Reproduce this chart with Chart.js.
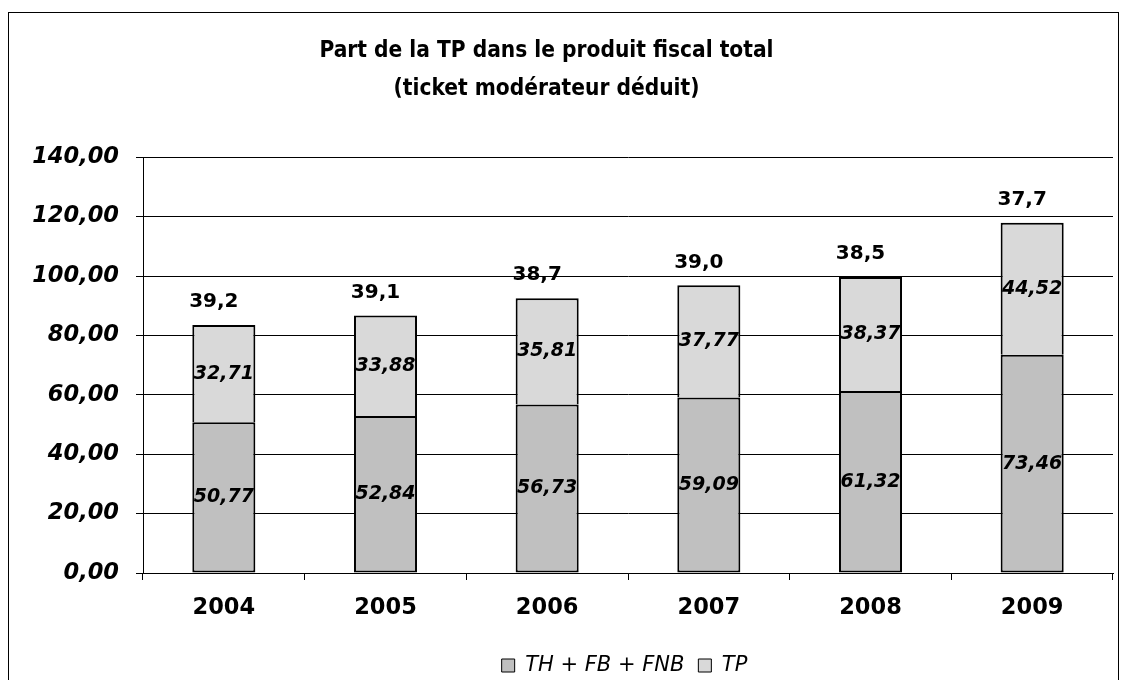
<!DOCTYPE html>
<html>
<head>
<meta charset="utf-8">
<script src="https://cdn.jsdelivr.net/npm/chart.js@4.4.0/dist/chart.umd.min.js"></script>
<style>
  body { margin: 0; background: #fff; }
  #wrap { position: relative; width: 1122px; height: 680px; }
  #frame {
    position: absolute; left: 8px; top: 12px; width: 1109px; height: 700px;
    border-left: 1px solid #000; border-top: 1px solid #000; border-right: 1px solid #000;
    pointer-events: none;
  }
</style>
</head>
<body>
<div id="wrap">
  <canvas id="chart" width="1122" height="680"></canvas>
  <div id="frame"></div>
</div>
<script>
const years = ["2004", "2005", "2006", "2007", "2008", "2009"];
const thFbFnb = [50.77, 52.84, 56.73, 59.09, 61.32, 73.46];
const tp = [32.71, 33.88, 35.81, 37.77, 38.37, 44.52];
const tpShare = [39.2, 39.1, 38.7, 39.0, 38.5, 37.7];
const yTicks = [0, 20, 40, 60, 80, 100, 120, 140];

const FONT = "'DejaVu Sans', Verdana, sans-serif";

function frNum(v, d) {
    return v.toFixed(d).replace(".", ",");
}

// values inside the bars and the TP share above each bar
const barLabels = {
    id: "barLabels",
    afterDatasetsDraw(chart) {
        const ctx = chart.ctx;
        ctx.save();
        ctx.fillStyle = "#000";
        ctx.textAlign = "center";
        ctx.textBaseline = "middle";
        ctx.font = "italic bold 19px " + FONT;
        chart.data.datasets.forEach((ds, i) => {
            chart.getDatasetMeta(i).data.forEach((bar, j) => {
                ctx.fillText(frNum(ds.data[j], 2), bar.x, (bar.y + bar.base) / 2);
            });
        });
        ctx.font = "bold 20px " + FONT;
        const top = chart.getDatasetMeta(1).data;
        top.forEach((bar, j) => {
            ctx.fillText(frNum(tpShare[j], 1), bar.x - 10, bar.y - 23);
        });
        ctx.restore();
    }
};

// nudge the legend and title to where Excel put them
const boxShift = {
    id: "boxShift",
    afterLayout(chart) {
        const lg = chart.legend;
        lg.left += 68;
        lg.right += 68;
        lg.top += 6;
        lg.bottom += 6;
        const tb = chart.titleBlock;
        tb.left -= 10;
        tb.right -= 10;
    }
};

new Chart(document.getElementById("chart"), {
    type: "bar",
    data: {
        labels: years,
        datasets: [
            {
                label: "TH + FB + FNB",
                data: thFbFnb,
                backgroundColor: "#c0c0c0",
                borderColor: "#000",
                borderWidth: 2,
                borderSkipped: false
            },
            {
                label: "TP",
                data: tp,
                backgroundColor: "#d9d9d9",
                borderColor: "#000",
                borderWidth: { top: 2, left: 2, right: 2, bottom: 0 },
                borderSkipped: false
            }
        ]
    },
    options: {
        responsive: false,
        animation: false,
        layout: { padding: { left: 0, right: 9, top: 0, bottom: 0 } },
        datasets: { bar: { categoryPercentage: 1, barPercentage: 0.39 } },
        plugins: {
            title: {
                display: true,
                text: ["Part de la TP dans le produit fiscal total", "(ticket modérateur déduit)"],
                color: "#000",
                font: { family: "'DejaVu Sans Condensed', " + FONT, size: 22.5, weight: "bold", lineHeight: 1.65 },
                padding: { top: 33, bottom: 50 }
            },
            legend: {
                position: "bottom",
                labels: {
                    color: "#000",
                    font: { family: FONT, size: 21, style: "italic" },
                    boxWidth: 13,
                    boxHeight: 13,
                    padding: 14,
                    generateLabels(chart) {
                        return chart.data.datasets.map((ds, i) => ({
                            text: ds.label,
                            fillStyle: ds.backgroundColor,
                            strokeStyle: "#000",
                            lineWidth: 1,
                            datasetIndex: i,
                            fontColor: "#000"
                        }));
                    }
                }
            },
            tooltip: { enabled: false }
        },
        scales: {
            x: {
                stacked: true,
                afterFit(scale) { scale.height = 62; },
                grid: { drawOnChartArea: false, drawTicks: true, tickLength: 7, color: "#000" },
                border: { color: "#000" },
                ticks: { color: "#000", padding: 15, font: { family: FONT, size: 22.5, weight: "bold" } }
            },
            y: {
                stacked: true,
                min: 0,
                max: 140,
                afterFit(scale) { scale.width = 143; },
                afterBuildTicks(scale) { scale.ticks = yTicks.map(v => ({ value: v })); },
                grid: { color: "#000", lineWidth: 1, tickLength: 7 },
                border: { color: "#000" },
                ticks: {
                    color: "#000",
                    padding: 17,
                    font: { family: FONT, size: 22.5, weight: "bold", style: "italic" },
                    callback: v => frNum(v, 2)
                }
            }
        }
    },
    plugins: [barLabels, boxShift]
});
</script>
</body>
</html>
